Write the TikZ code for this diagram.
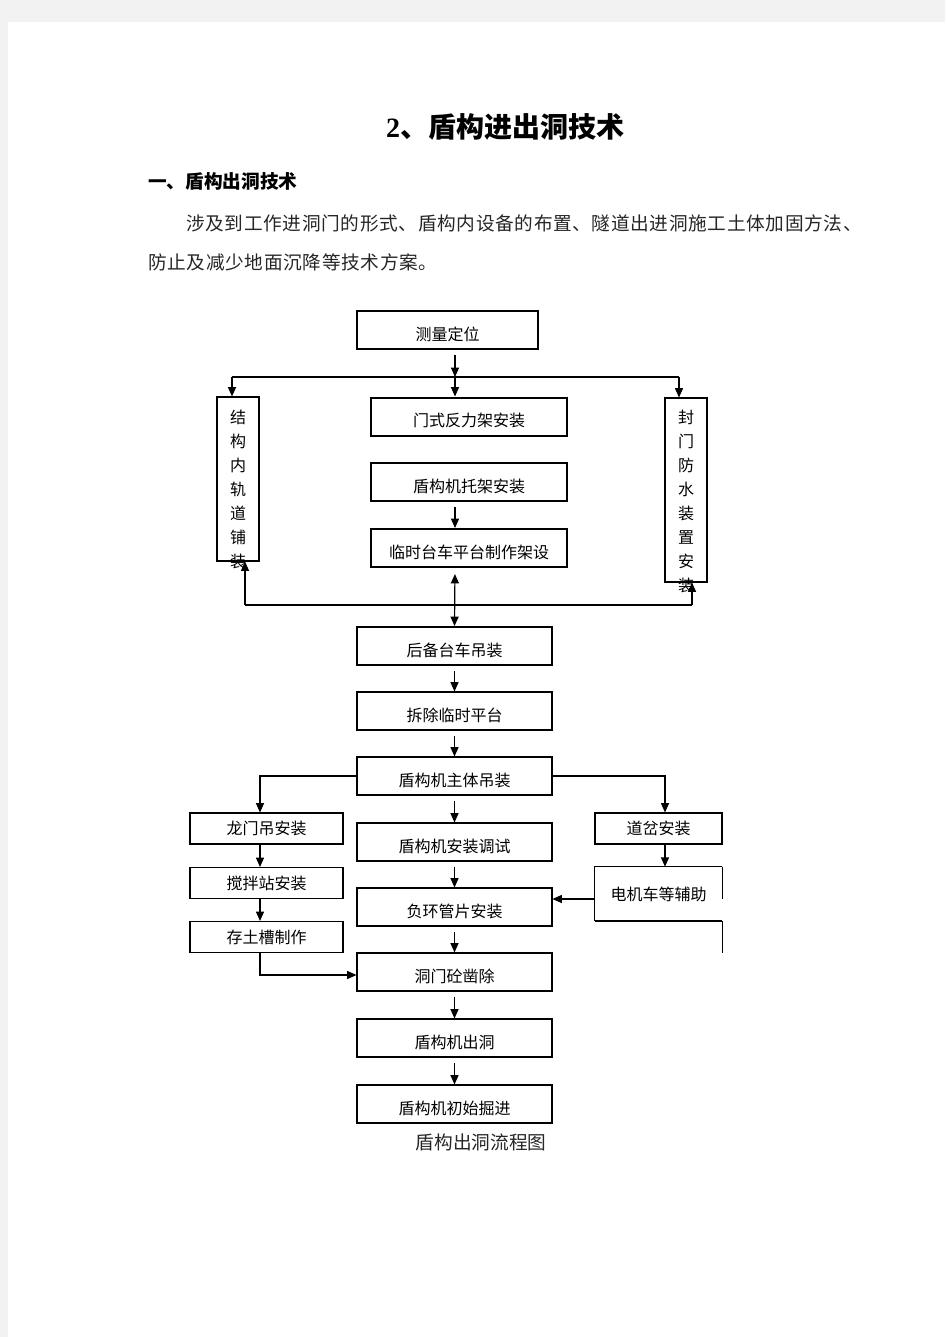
\documentclass[tikz,border=0pt]{standalone}
\usepackage{fontspec}
\newfontfamily\cjk{Noto Sans CJK SC}
\newfontfamily\cjkwide[LetterSpace=3.5]{Noto Sans CJK SC}
\newfontfamily\numfont{Liberation Serif}
\usetikzlibrary{arrows.meta,positioning}

\begin{document}
\begin{tikzpicture}[
		x=0.75pt,y=-0.75pt,
		box/.style={draw,line width=0.8pt,inner sep=0pt,minimum height=28.5pt,
			text height=15pt,text depth=0pt,font=\cjk\fontsize{12}{14}\selectfont},
		thickbox/.style={box,line width=1.5pt},
		sbox/.style={draw,line width=0.8pt,inner sep=0pt,minimum height=23.25pt,
			font=\cjk\fontsize{12}{14}\selectfont},
		vbox/.style={draw,line width=0.8pt,inner sep=0pt,minimum width=31.5pt},
		vtext/.style={inner sep=0pt,anchor=north,align=center,
			font=\cjk\fontsize{12}{18}\selectfont},
		arrow/.style={-{Triangle[length=7pt,width=6pt]},line width=0.9pt},
		gap/.style={arrow,shorten <=3.75pt},
		line/.style={line width=0.9pt}
		]
		\useasboundingbox (0,0) rectangle (945,1337);
		\fill[black!5] (0,0) rectangle (945,1337);
		\fill[white] (8,22) rectangle (945,1337);
		
		% page text
		\node[font=\cjk\bfseries\fontsize{21}{24}\selectfont] (title) at (505,127)
		{{\numfont\bfseries 2}、盾构进出洞技术};
		\node[anchor=west,inner sep=0pt,font=\cjk\bfseries\fontsize{14}{16}\selectfont] (sec) at (148,181)
		{一、盾构出洞技术};
		\node[anchor=west,inner sep=0pt,text=black!85,font=\cjkwide\fontsize{14}{16}\selectfont] (p1) at (186,223)
		{涉及到工作进洞门的形式、盾构内设备的布置、隧道出进洞施工土体加固方法、};
		\node[anchor=west,inner sep=0pt,text=black!85,font=\cjkwide\fontsize{14}{16}\selectfont] (p2) at (148,262)
		{防止及减少地面沉降等技术方案。};
		
		% manual positions
		\node[box,minimum width=135.75pt] (cl) at (447.5,330) {测量定位};
		
		\node[thickbox,minimum width=147pt] (mf) at (469,416.5) {门式反力架安装};
		\node[thickbox,minimum width=147pt] (tj) at (469,482) {盾构机托架安装};
		\node[thickbox,minimum width=147pt] (ls) at (469,548) {临时台车平台制作架设};
		
		\node[vbox,minimum height=123pt] (jg) at (238,479) {};
		\node[vtext] (jgt) at (238,410) {结\\构\\内\\轨\\道\\铺\\装};
		\node[vbox,minimum height=138pt] (fm) at (686,490) {};
		\node[vtext] (fmt) at (686,410) {封\\门\\防\\水\\装\\置\\安\\装};
		
		\node[thickbox,minimum width=146.25pt] (bh) at (454.5,646) {后备台车吊装};
		\node[box,minimum width=146.25pt] (cc) at (454.5,711) {拆除临时平台};
		\node[box,minimum width=146.25pt] (zt) at (454.5,776) {盾构机主体吊装};
		\node[box,minimum width=146.25pt] (ts) at (454.5,842) {盾构机安装调试};
		\node[box,minimum width=146.25pt] (fh) at (454.5,907) {负环管片安装};
		\node[box,minimum width=146.25pt] (dm) at (454.5,972) {洞门砼凿除};
		\node[box,minimum width=146.25pt] (cd) at (454.5,1038) {盾构机出洞};
		\node[box,minimum width=146.25pt] (cs) at (454.5,1104) {盾构机初始掘进};
		
		\node[sbox,minimum width=114.75pt] (lm) at (266.5,828.5) {龙门吊安装};
		\node[sbox,minimum width=114.75pt] (jb) at (266.5,883) {搅拌站安装};
		\node[sbox,minimum width=114.75pt] (ct) at (266.5,937) {存土槽制作};
		
		\node[sbox,minimum width=95.25pt] (dc) at (658.5,828.5) {道岔安装};
		\node[inner sep=0pt,minimum width=95.25pt,minimum height=40.5pt,
		font=\cjk\fontsize{12}{14}\selectfont] (dj) at (658.5,894) {电机车等辅助};
		\draw[line width=0.8pt] (dj.north east) -- ++(0,32) (dj.north east) -- (dj.north west)
		-- (dj.south west);
		\draw[line width=1.3pt] (dj.south west) -- (dj.south east);
		\draw[line width=0.8pt] (dj.south east) -- ++(0,32);
		
		\node[text=black!85,font=\cjk\fontsize{14}{16}\selectfont] (cap) at (481,1142) {盾构出洞流程图};
		
		% junctions
		\coordinate (s1) at (455,377);
		\coordinate (s1l) at (232,377);
		\coordinate (s1r) at (679,377);
		\coordinate (s2) at (455,605);
		\coordinate (s2l) at (245,605);
		\coordinate (s2r) at (692,605);
		\coordinate (lc) at (260,0);
		\coordinate (rc) at (665,0);
		
		% arrows
		\draw[gap] (cl.south -| s1) -- (s1);
		\draw[line] (s1l) -- (s1r);
		\draw[arrow] (s1l) -- (s1l |- jg.north);
		\draw[arrow] (s1) -- (s1 |- mf.north);
		\draw[arrow] (s1r) -- (s1r |- fm.north);
		\draw[gap] (s1 |- tj.south) -- (s1 |- ls.north);
		\draw[arrow,{Triangle[length=7pt,width=6pt]}-{Triangle[length=7pt,width=6pt]},shorten <=4.5pt]
		(s1 |- ls.south) -- (bh.north);
		\draw[line] (s2l) -- (s2r);
		\draw[arrow] (s2l) -- (s2l |- jg.south);
		\draw[arrow] (s2r) -- (s2r |- fm.south);
		\draw[gap] (bh) -- (cc);
		\draw[gap] (cc) -- (zt);
		\draw[gap] (zt) -- (ts);
		\draw[gap] (ts) -- (fh);
		\draw[gap] (fh) -- (dm);
		\draw[gap] (dm) -- (cd);
		\draw[gap] (cd) -- (cs);
		\draw[arrow] (zt.west) -- (zt.west -| lc) -- (lc |- lm.north);
		\draw[arrow] (zt.east) -- (zt.east -| rc) -- (rc |- dc.north);
		\draw[arrow] (lc |- lm.south) -- (lc |- jb.north);
		\draw[arrow] (lc |- jb.south) -- (lc |- ct.north);
		\draw[arrow] (lc |- ct.south) -- ([yshift=-2.25pt]lc |- dm.west) -- ([yshift=-2.25pt]dm.west);
		\draw[arrow] (rc |- dc.south) -- (rc |- dj.north);
		\draw[arrow] ([yshift=-3.75pt]dj.west) -- ([yshift=-3.75pt]dj.west -| fh.east);
	\end{tikzpicture}
\end{document}
